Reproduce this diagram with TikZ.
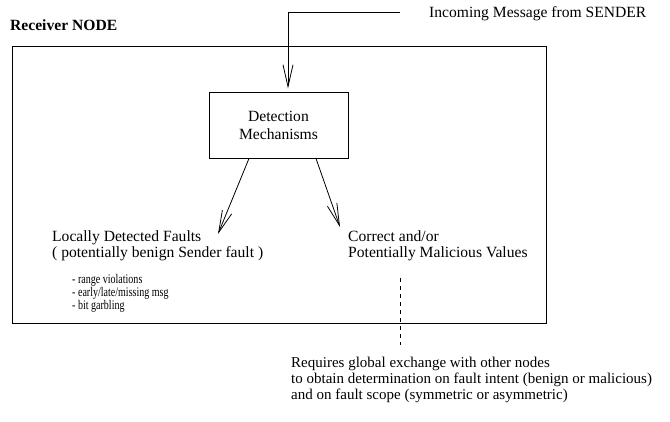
\documentclass[tikz,border=0pt]{standalone}
\usepackage{fontspec}
\setmainfont{Liberation Serif}
\newfontfamily\narrowserif[FakeStretch=0.76]{Liberation Serif}
\usetikzlibrary{arrows.meta,calc}
\begin{document}
\begin{tikzpicture}[x=1pt,y=-1pt,
  txt/.style={anchor=mid west,inner sep=0pt,font=\fontsize{15.6}{16}\selectfont},
  btxt/.style={txt,font=\fontsize{15.6}{16}\selectfont\bfseries},
  listtxt/.style={anchor=north west,inner sep=0pt,align=left,font=\narrowserif\fontsize{13.2}{10.5}\selectfont},
  wtxt/.style={anchor=mid west,inner sep=0pt,font=\fontsize{15}{16}\selectfont},
  boxstyle/.style={draw,line width=0.9pt,inner sep=0pt,minimum width=139,minimum height=66,align=center,font=\fontsize{15.6}{18}\selectfont},
  arr/.style={line width=0.8pt,-{Straight Barb[length=22pt,width=10pt,line width=0.8pt]}},
  dashline/.style={line width=0.8pt,dash pattern=on 4pt off 4pt}
]
\useasboundingbox (0,0) rectangle (670,421);

\node[btxt] (title) at (10,28) {Receiver NODE};
\node[draw,line width=0.9pt,anchor=north west,inner sep=0pt,minimum width=534,minimum height=277.5] (frame) at (12,45.5) {};

\node[txt] (incoming) at (429,15) {Incoming Message from SENDER};
\coordinate (inend) at (400,12);

\node[boxstyle] (det) at (278.5,125) {Detection\\Mechanisms};

\draw[arr] (inend) -| ($(det.north)+(9.5,-3)$);

\node[txt] (loc1) at (52,239) {Locally Detected Faults};
\node[txt] (loc2) at (52,255) {( potentially benign Sender fault )};
\node[listtxt] (lst) at (72,274) {- range violations\\- early/late/missing msg\\- bit garbling};

\node[txt] (cor1) at (348,239) {Correct and/or};
\node[txt] (cor2) at (348,255) {Potentially Malicious Values};

\coordinate (ltip) at (218,234);
\coordinate (rtip) at (340,227);
\draw[arr] ($(det.south)+(-29.5,0)$) -- (ltip);
\draw[arr] ($(det.south)+(37.5,0)$) -- (rtip);

\coordinate (d1) at (400,278);
\coordinate (d2) at (400,345);
\draw[dashline] (d1) -- (d2);

\node[wtxt] (r1) at (291,365) {Requires global exchange with other nodes};
\node[wtxt] (r2) at (291,381) {to obtain determination on fault intent (benign or malicious)};
\node[wtxt] (r3) at (291,397) {and on fault scope (symmetric or asymmetric)};
\end{tikzpicture}
\end{document}
